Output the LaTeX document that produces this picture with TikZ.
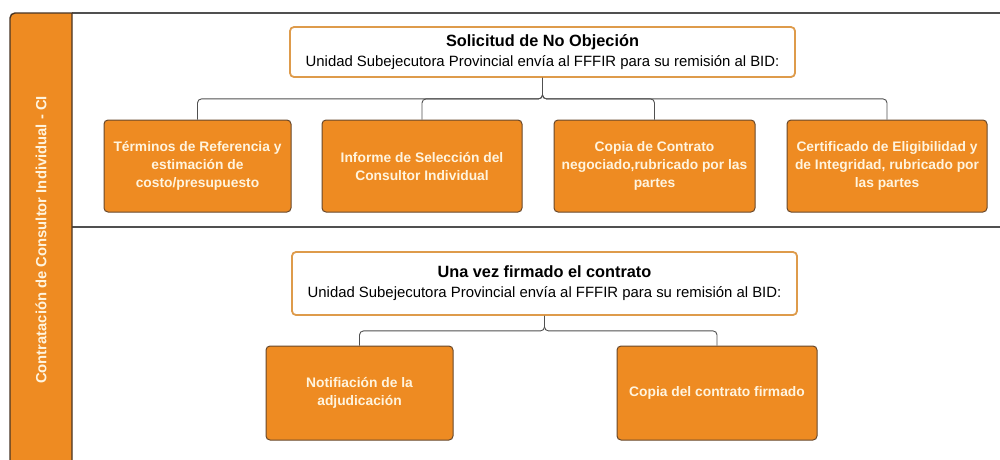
\documentclass[tikz,border=0pt]{standalone}
\usepackage{fontspec}
\setmainfont{Liberation Sans}
\usetikzlibrary{positioning}
\definecolor{boxorange}{RGB}{238,139,34}
\definecolor{boxedge}{RGB}{104,72,44}
\definecolor{boxtext}{RGB}{255,244,222}
\definecolor{headedge}{RGB}{222,155,75}
\definecolor{linkgray}{RGB}{80,80,80}
\definecolor{bandedge}{RGB}{72,52,36}

\begin{document}
\begin{tikzpicture}[x=1pt,y=-1pt,
    item/.style={rectangle,rounded corners=4pt,fill=boxorange,draw=boxedge,line width=1pt,
      text=boxtext,font=\bfseries\fontsize{13.8}{18}\selectfont,align=center,minimum height=92pt,inner sep=1pt},
    head/.style={rectangle,rounded corners=4pt,fill=white,draw=headedge,line width=1.8pt,
      align=center,minimum width=505pt,font=\fontsize{14.9}{20}\selectfont},
    link/.style={draw=linkgray,line width=0.9pt,rounded corners=4pt}]
  \useasboundingbox (0,0) rectangle (1000,459);
  \clip (0,0) rectangle (1000,459);
  \fill[white] (0,0) rectangle (1000,459);
  \draw[linkgray,line width=1.2pt] (72,13) -- (1002,13);
  \draw[linkgray,line width=1.2pt] (72,227) -- (1002,227);
  \draw[fill=boxorange,draw=bandedge,line width=1.4pt] (10,470) [rounded corners=5pt] -- (10,13) [sharp corners] -- (72,13) -- (72,470);
  \node[rotate=90,text=boxtext,font=\bfseries\fontsize{14.8}{16}\selectfont] (band) at (41,240) {Contratación de Consultor Individual - CI};

  \node[head,minimum height=50pt] (hdrA) at (542.5,52) {{\bfseries\fontsize{16.3}{20}\selectfont Solicitud de No Objeción}\\Unidad Subejecutora Provincial envía al FFFIR para su remisión al BID:};
  \node[item,minimum width=187pt] (terminos) at (197.5,166) {Términos de Referencia y\\estimación de\\costo/presupuesto};
  \node[item,minimum width=200pt] (informe) at (422,166) {Informe de Selección del\\Consultor Individual};
  \node[item,minimum width=201pt] (copia) at (654.5,166) {Copia de Contrato\\negociado,rubricado por las\\partes};
  \node[item,minimum width=200pt] (certif) at (887,166) {Certificado de Eligibilidad y\\de Integridad, rubricado por\\las partes};
  \draw[link] (hdrA.south) -- ++(0,21) -| (terminos.north);
  \draw[link] (hdrA.south) -- ++(0,21) -| (informe.north);
  \draw[link] (hdrA.south) -- ++(0,21) -| (copia.north);
  \draw[link] (hdrA.south) -- ++(0,21) -| (certif.north);

  \node[head,minimum height=63pt] (hdrB) at (544.5,283.5) {{\bfseries\fontsize{16.3}{20}\selectfont Una vez firmado el contrato}\\Unidad Subejecutora Provincial envía al FFFIR para su remisión al BID:};
  \node[item,minimum width=187pt,minimum height=94pt] (notif) at (359.5,393) {Notifiación de la\\adjudicación};
  \node[item,minimum width=200pt,minimum height=94pt] (firmado) at (717,393) {Copia del contrato firmado};
  \draw[link] (hdrB.south) -- ++(0,15) -| (notif.north);
  \draw[link] (hdrB.south) -- ++(0,15) -| (firmado.north);
\end{tikzpicture}
\end{document}
